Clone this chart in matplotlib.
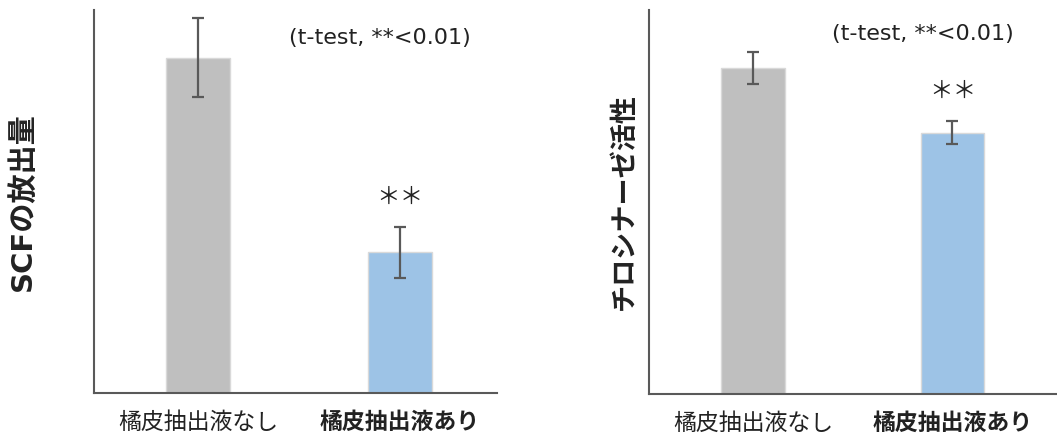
import numpy as np
import matplotlib.pyplot as plt

plt.rcParams['font.family'] = ['Noto Sans CJK JP', 'DejaVu Sans']
latin_first = ['DejaVu Sans', 'Noto Sans CJK JP']

# data (relative values, control = 100)
groups = ['橘皮抽出液なし', '橘皮抽出液あり']
scf_values = [100, 42]
scf_errors = [11.8, 7.6]
tyr_values = [100, 80.1]
tyr_errors = [4.9, 3.4]

bar_colors = ['#BFBFBF', '#9DC3E6']
axis_color = '#595959'

fig = plt.figure(figsize=(10.57, 4.34), dpi=100)
ax1 = fig.add_axes([0.0889, 0.0945, 0.381, 0.8825])
ax2 = fig.add_axes([0.614, 0.0922, 0.386, 0.885])


def draw_panel(ax, values, errors, ylabel, label_size, ylim_top, xlim, star_y, note_xy, label_x):
    x = np.arange(len(values))
    ax.bar(x, values, width=0.317, color=bar_colors, edgecolor='#D9D9D9', linewidth=1)
    ax.errorbar(x, values, yerr=errors, fmt='none', ecolor=axis_color,
                elinewidth=1.6, capsize=4, capthick=1.6)
    ax.set_xlim(*xlim)
    ax.set_ylim(0, ylim_top)
    for side in ['top', 'right']:
        ax.spines[side].set_visible(False)
    for side in ['left', 'bottom']:
        ax.spines[side].set_color(axis_color)
        ax.spines[side].set_linewidth(1.5)
    ax.set_yticks([])
    ax.set_xticks(x)
    ax.set_xticklabels(groups, fontsize=16.5, color='#222222')
    ax.get_xticklabels()[1].set_fontweight('bold')
    ax.tick_params(axis='x', length=0, pad=13)
    ax.set_ylabel(ylabel, fontsize=label_size, fontweight='bold', color='#222222',
                  family=latin_first)
    ax.yaxis.set_label_coords(label_x, 0.5)
    ax.text(1, star_y, '＊＊', ha='center', va='center', fontsize=17, color='#222222')
    ax.text(note_xy[0], note_xy[1], '(t-test, **<0.01)', ha='center', va='center',
            fontsize=16, color='#222222', family='DejaVu Sans')


draw_panel(ax1, scf_values, scf_errors, 'SCFの放出量', 21, 114.3, (-0.515, 1.48),
           58.5, (0.90, 106), -0.141)
draw_panel(ax2, tyr_values, tyr_errors, 'チロシナーゼ活性', 19.5, 117.7, (-0.521, 1.524),
           92.6, (0.85, 110.3), -0.027)

fig.savefig('out.png', dpi=100)
